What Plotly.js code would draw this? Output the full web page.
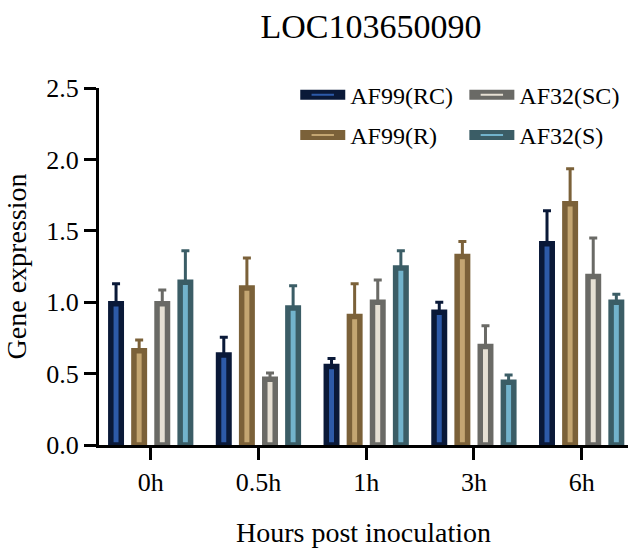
<!DOCTYPE html>
<html>
<head>
<meta charset="utf-8">
<script src="https://cdn.plot.ly/plotly-3.0.1.min.js"></script>
<style>html,body{margin:0;padding:0;background:#fff;}#chart{width:641px;height:553px;}</style>
</head>
<body>
<div id="chart"></div>
<script>
const categories = ['0h', '0.5h', '1h', '3h', '6h'];
const seriesNames = ['AF99(RC)', 'AF99(R)', 'AF32(SC)', 'AF32(S)'];
const rcValues = [0.99, 0.63, 0.55, 0.93, 1.41];
const rcErrors = [0.14, 0.125, 0.055, 0.07, 0.23];
const rValues = [0.66, 1.10, 0.90, 1.32, 1.69];
const rErrors = [0.075, 0.21, 0.23, 0.105, 0.245];
const scValues = [0.99, 0.46, 1.00, 0.69, 1.18];
const scErrors = [0.095, 0.045, 0.155, 0.145, 0.27];
const sValues = [1.14, 0.96, 1.24, 0.44, 1.00];
const sErrors = [0.22, 0.155, 0.12, 0.05, 0.055];
const yTickVals = [0, 0.5, 1.0, 1.5, 2.0, 2.5];

const outerColors = ['#0a1938', '#7b6139', '#6a6a66', '#3b5d66'];
const innerColors = ['#2d5aa8', '#c4a672', '#e6e0d4', '#72b3cc'];
const allValues = [rcValues, rValues, scValues, sValues];
const allErrors = [rcErrors, rErrors, scErrors, sErrors];
const legendIds = ['legend', 'legend', 'legend2', 'legend2'];

const FONT = 'Liberation Serif, Times New Roman, serif';
const traces = [];
allValues.forEach((vals, i) => {
  traces.push({
    type: 'bar',
    x: categories,
    y: vals,
    name: seriesNames[i],
    legendgroup: 'g' + i,
    showlegend: false,
    marker: {color: innerColors[i], line: {color: outerColors[i], width: 5.5}},
    error_y: {type: 'data', symmetric: false, array: allErrors[i], arrayminus: vals.map(() => 0),
              color: outerColors[i], thickness: 3, width: 4},
    hoverinfo: 'x+y'
  });
});
// legend entries
allValues.forEach((vals, i) => {
  traces.push({
    type: 'scatter',
    mode: 'lines+markers',
    x: [null], y: [null],
    name: seriesNames[i],
    legendgroup: 'g' + i,
    legend: legendIds[i],
    showlegend: true,
    line: {color: outerColors[i], width: 12},
    marker: {symbol: 'line-ew', size: 30, color: innerColors[i], line: {color: innerColors[i], width: 2}}
  });
});

const legendBase = {y: 1.043, yanchor: 'top', orientation: 'v',
  font: {family: FONT, size: 24, color: '#000'}, itemwidth: 45, tracegroupgap: 6, bgcolor: 'rgba(0,0,0,0)'};

const layout = {
  width: 641, height: 553,
  margin: {l: 99, r: 13, t: 88, b: 108},
  paper_bgcolor: '#fff', plot_bgcolor: '#fff',
  font: {family: FONT, color: '#000'},
  title: {text: 'LOC103650090', font: {family: FONT, size: 34, color: '#000'}, xref: 'paper', x: 0.514, xanchor: 'center', y: 0.952, yanchor: 'middle'},
  barmode: 'group',
  bargap: 0.142,
  bargroupgap: 0.547,
  showlegend: true,
  legend: Object.assign({x: 0.371, xanchor: 'left'}, legendBase),
  legend2: Object.assign({x: 0.995, xanchor: 'right'}, legendBase),
  xaxis: {
    type: 'category', range: [-0.48, 4.43],
    showline: true, linewidth: 3, linecolor: '#000',
    ticks: 'outside', ticklen: 12, tickwidth: 3, tickcolor: '#000',
    tickfont: {family: FONT, size: 26, color: '#000'},
    showgrid: false, zeroline: false,
    title: {text: 'Hours post inoculation', font: {family: FONT, size: 28, color: '#000'}, standoff: 27}
  },
  yaxis: {
    range: [0, 2.5], tickvals: yTickVals, tickformat: '.1f',
    showline: true, linewidth: 3, linecolor: '#000',
    ticks: 'outside', ticklen: 12, tickwidth: 3, tickcolor: '#000',
    tickfont: {family: FONT, size: 26, color: '#000'},
    showgrid: false, zeroline: false,
    title: {text: 'Gene expression', font: {family: FONT, size: 28, color: '#000'}, standoff: 12}
  }
};
Plotly.newPlot('chart', traces, layout, {displayModeBar: false, staticPlot: true});
</script>
</body>
</html>
